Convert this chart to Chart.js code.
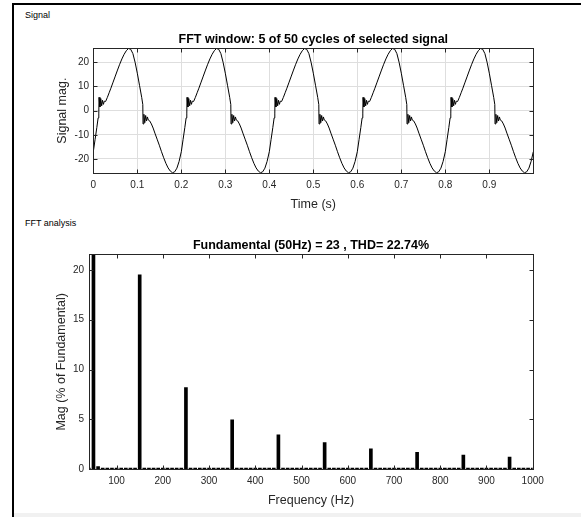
<!DOCTYPE html>
<html>
<head>
<meta charset="utf-8">
<script src="https://cdn.jsdelivr.net/npm/chart.js@4.4.1/dist/chart.umd.min.js"></script>
<style>
  body { margin: 0; background: #fff; }
  #page { position: relative; width: 581px; height: 517px; overflow: hidden; background: #fff; }
  #frame { position: absolute; left: 12px; top: 3px; right: -4px; bottom: -4px; border-top: 2px solid #000; border-left: 2px solid #000; }
  .panel { position: absolute; font: 9px "Liberation Sans", Arial, sans-serif; color: #000; }
  canvas { position: absolute; }
  #strip { position: absolute; left: 14px; right: 0; top: 513px; height: 4px; background: #f1f1f1; }
</style>
</head>
<body>
<div id="page">
  <div id="frame"></div>
  <div class="panel" style="left:25px; top:10px;">Signal</div>
  <div class="panel" style="left:25px; top:218px;">FFT analysis</div>
  <canvas id="sig" width="567" height="212" style="left:14px; top:6px;"></canvas>
  <canvas id="fft" width="567" height="283" style="left:14px; top:230px;"></canvas>
  <div id="strip"></div>
</div>
<script>
// one cycle of the signal (time offset in s, magnitude)
const cycleTime = [0, 0.004, 0.008, 0.011, 0.0125, 0.013, 0.015, 0.017, 0.019, 0.021,
  0.023, 0.025, 0.028, 0.032, 0.036, 0.04, 0.045, 0.05, 0.055, 0.06,
  0.065, 0.07, 0.075, 0.08, 0.085, 0.09, 0.095, 0.1, 0.105, 0.11,
  0.1125, 0.113, 0.115, 0.117, 0.119, 0.121, 0.123, 0.125, 0.128, 0.132,
  0.136, 0.14, 0.145, 0.15, 0.155, 0.16, 0.165, 0.17, 0.175, 0.18,
  0.185, 0.19, 0.195, 0.2];
const cycleValue = [-17, -12, -7, -3, -1, 5.5, 1.5, 5, 2, 4.3,
  2.6, 3.9, 3.8, 5.5, 7.4, 9.3, 11.8, 14.3, 16.8, 19.2,
  21.4, 23.3, 24.8, 25.7, 25.4, 23.6, 20, 15.5, 10.5, 5.5,
  2.5, -5.5, -1.5, -5, -2, -4.3, -2.6, -3.9, -4.2, -5.5,
  -7.2, -9.3, -11.8, -14.3, -17, -19.5, -21.8, -23.7, -25, -25.7,
  -25.3, -23.8, -21, -17];
// the window holds 5 of these cycles
const cycleStart = [0, 0.2, 0.4, 0.6, 0.8];
const timeTicks = [0, 0.1, 0.2, 0.3, 0.4, 0.5, 0.6, 0.7, 0.8, 0.9];
const sigTicks = [-20, -10, 0, 10, 20];

// FFT bins (Hz) and magnitude in % of fundamental
const binFreq = [40, 50, 60, 70, 80, 90, 100, 110, 120, 130,
  140, 150, 160, 170, 180, 190, 200, 210, 220, 230,
  240, 250, 260, 270, 280, 290, 300, 310, 320, 330,
  340, 350, 360, 370, 380, 390, 400, 410, 420, 430,
  440, 450, 460, 470, 480, 490, 500, 510, 520, 530,
  540, 550, 560, 570, 580, 590, 600, 610, 620, 630,
  640, 650, 660, 670, 680, 690, 700, 710, 720, 730,
  740, 750, 760, 770, 780, 790, 800, 810, 820, 830,
  840, 850, 860, 870, 880, 890, 900, 910, 920, 930,
  940, 950, 960, 970, 980, 990, 1000];
const binMag = [0.12, 100, 0.28, 0.12, 0.12, 0.12, 0.12, 0.12, 0.12, 0.12,
  0.12, 19.5, 0.12, 0.12, 0.12, 0.12, 0.12, 0.12, 0.12, 0.12,
  0.12, 8.2, 0.12, 0.12, 0.12, 0.12, 0.12, 0.12, 0.12, 0.12,
  0.12, 4.95, 0.12, 0.12, 0.12, 0.12, 0.12, 0.12, 0.12, 0.12,
  0.12, 3.45, 0.12, 0.12, 0.12, 0.12, 0.12, 0.12, 0.12, 0.12,
  0.12, 2.67, 0.12, 0.12, 0.12, 0.12, 0.12, 0.12, 0.12, 0.12,
  0.12, 2.04, 0.12, 0.12, 0.12, 0.12, 0.12, 0.12, 0.12, 0.12,
  0.12, 1.7, 0.12, 0.12, 0.12, 0.12, 0.12, 0.12, 0.12, 0.12,
  0.12, 1.43, 0.12, 0.12, 0.12, 0.12, 0.12, 0.12, 0.12, 0.12,
  0.12, 1.23, 0.12, 0.12, 0.12, 0.12, 0.12, 0.12, 0.12, 0.12, 0.12];
const freqTicks = [100, 200, 300, 400, 500, 600, 700, 800, 900, 1000];
const magTicks = [0, 5, 10, 15, 20];

const FONT = '"Liberation Sans", Arial, Helvetica, sans-serif';
const INK = '#262626';
Chart.defaults.font.family = FONT;
Chart.defaults.color = INK;

// matlab-ish axes box, inward ticks and bold title
const matBox = {
  id: 'matBox',
  afterDraw(chart, args, opts) {
    const { ctx, chartArea: a, scales } = chart;
    const L = Math.round(a.left) + 0.5, R = Math.round(a.right) + 0.5;
    const T = Math.round(a.top) + 0.5, B = Math.round(a.bottom) + 0.5;
    ctx.save();
    ctx.strokeStyle = INK;
    ctx.lineWidth = 1;
    ctx.beginPath();
    scales.x.ticks.forEach(t => {
      const px = Math.round(scales.x.getPixelForValue(t.value)) + 0.5;
      ctx.moveTo(px, B); ctx.lineTo(px, B - 4);
      ctx.moveTo(px, T); ctx.lineTo(px, T + 4);
    });
    scales.y.ticks.forEach(t => {
      const py = Math.round(scales.y.getPixelForValue(t.value)) + 0.5;
      ctx.moveTo(L, py); ctx.lineTo(L + 4, py);
      ctx.moveTo(R, py); ctx.lineTo(R - 4, py);
    });
    ctx.stroke();
    ctx.strokeRect(L, T, R - L, B - T);
    ctx.fillStyle = '#000';
    ctx.font = 'bold 12.5px ' + FONT;
    ctx.textAlign = 'center';
    ctx.textBaseline = 'alphabetic';
    ctx.fillText(opts.text, (a.left + a.right) / 2, a.top - 5);
    ctx.restore();
  }
};

const tickFont = { size: 10 };
const titleFont = { size: 12.5 };

let signalPts = [];
cycleStart.forEach(t0 => {
  cycleTime.forEach((t, i) => signalPts.push({ x: t0 + t, y: cycleValue[i] }));
});

new Chart(document.getElementById('sig'), {
  type: 'line',
  data: { datasets: [{ data: signalPts, borderColor: '#000', borderWidth: 1, borderJoinStyle: 'round', pointRadius: 0, tension: 0, fill: false }] },
  options: {
    responsive: false, animation: false, events: [],
    layout: { padding: { top: 42.3, right: 47.7, left: 0, bottom: 0 } },
    plugins: { legend: { display: false }, tooltip: { enabled: false }, matBox: { text: 'FFT window: 5 of 50 cycles of selected signal' } },
    scales: {
      x: {
        type: 'linear', min: 0, max: 1,
        afterFit: s => { s.height = 45; },
        afterBuildTicks: s => { s.ticks = timeTicks.map(v => ({ value: v })); },
        ticks: { font: tickFont, padding: 6.5, maxRotation: 0, autoSkip: false, callback: v => String(v) },
        grid: { color: '#dedede', drawTicks: false },
        border: { display: false },
        title: { display: true, text: 'Time (s)', font: titleFont, padding: { bottom: 6 } }
      },
      y: {
        min: -25.8, max: 25.8,
        afterFit: s => { s.width = 79.3; },
        afterBuildTicks: s => { s.ticks = sigTicks.map(v => ({ value: v })); },
        ticks: { font: tickFont, padding: 4.3, callback: v => String(v) },
        grid: { color: '#dedede', drawTicks: false },
        border: { display: false },
        title: { display: true, text: 'Signal mag.', font: titleFont, padding: { top: 41.5 } }
      }
    }
  },
  plugins: [matBox]
});

new Chart(document.getElementById('fft'), {
  type: 'bar',
  data: { datasets: [{ data: binFreq.map((f, i) => ({ x: f, y: binMag[i] })), backgroundColor: '#000', barThickness: 3 }] },
  options: {
    responsive: false, animation: false, events: [],
    layout: { padding: { top: 24.3, right: 48.3, left: 0, bottom: 0 } },
    plugins: { legend: { display: false }, tooltip: { enabled: false }, matBox: { text: 'Fundamental (50Hz) = 23 , THD= 22.74%' } },
    scales: {
      x: {
        type: 'linear', min: 41, max: 1000, offset: false,
        afterFit: s => { s.height = 43.7; },
        afterBuildTicks: s => { s.ticks = freqTicks.map(v => ({ value: v })); },
        ticks: { font: tickFont, padding: 6.4, maxRotation: 0, autoSkip: false, callback: v => String(v) },
        grid: { display: false, drawTicks: false, offset: false },
        border: { display: false },
        title: { display: true, text: 'Frequency (Hz)', font: titleFont, padding: { bottom: 4.5 } }
      },
      y: {
        min: 0, max: 21.55,
        afterFit: s => { s.width = 75.3; },
        afterBuildTicks: s => { s.ticks = magTicks.map(v => ({ value: v })); },
        ticks: { font: tickFont, padding: 5.3, callback: v => String(v) },
        grid: { display: false, drawTicks: false },
        border: { display: false },
        title: { display: true, text: 'Mag (% of Fundamental)', font: titleFont, padding: { top: 40.2 } }
      }
    }
  },
  plugins: [matBox]
});
</script>
</body>
</html>
